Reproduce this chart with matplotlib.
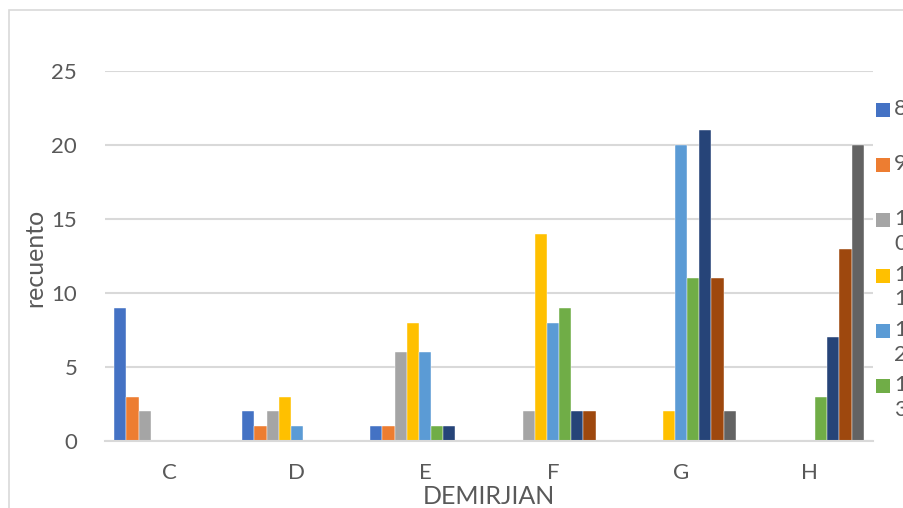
import numpy as np
import matplotlib
matplotlib.use("Agg")
import matplotlib.pyplot as plt
from matplotlib.patches import Rectangle

plt.rcParams['font.family'] = ['Lato', 'DejaVu Sans']

# Stages on the x axis and counts per age group
categories = ["C", "D", "E", "F", "G", "H"]
series_names = ["8", "9", "10", "11", "12", "13", "14", "15", "16"]
s8 = [9, 2, 1, 0, 0, 0]
s9 = [3, 1, 1, 0, 0, 0]
s10 = [2, 2, 6, 2, 0, 0]
s11 = [0, 3, 8, 14, 2, 0]
s12 = [0, 1, 6, 8, 20, 0]
s13 = [0, 0, 1, 9, 11, 3]
s14 = [0, 0, 1, 2, 21, 7]
s15 = [0, 0, 0, 2, 11, 13]
s16 = [0, 0, 0, 0, 2, 20]
series_values = [s8, s9, s10, s11, s12, s13, s14, s15, s16]
yticks = [0, 5, 10, 15, 20, 25]

colors = ["#4472C4", "#ED7D31", "#A5A5A5", "#FFC000", "#5B9BD5",
          "#70AD47", "#264478", "#9E480E", "#636363"]
text_color = "#595959"
grid_color = "#D9D9D9"

W, H = 904, 508
fig = plt.figure(figsize=(W / 100, H / 100), dpi=100)
fig.patch.set_facecolor("white")

# chart frame
fig.add_artist(Rectangle((9 / W, -0.1), 1.2, (H - 10) / H + 0.1,
                         transform=fig.transFigure, fill=False,
                         edgecolor=grid_color, linewidth=1.2))

left, right, top, bottom = 105, 873, 71, 441
ax = fig.add_axes([left / W, (H - bottom) / H, (right - left) / W, (bottom - top) / H])

n = len(series_values)
bar_w = 1 / (n + 1.5)
x = np.arange(len(categories))
for i, (vals, c) in enumerate(zip(series_values, colors)):
    offs = (i - (n - 1) / 2) * bar_w
    ax.bar(x + offs, vals, width=bar_w, color=c, edgecolor="white",
           linewidth=0.3, zorder=3)

ax.set_xlim(-0.5, len(categories) - 0.5)
ax.set_ylim(0, 25)
ax.set_yticks(yticks)
ax.set_xticks(x)
ax.set_xticklabels(categories)
ax.yaxis.grid(True, color=grid_color, linewidth=1.5, zorder=0)
for s in ["left", "right", "top"]:
    ax.spines[s].set_visible(False)
ax.spines["bottom"].set_color(grid_color)
ax.spines["bottom"].set_linewidth(1.5)
ax.spines["bottom"].set_zorder(4)
ax.tick_params(axis="both", length=0, labelsize=16, labelcolor=text_color)
ax.tick_params(axis="y", pad=20)
ax.tick_params(axis="x", pad=16)

fig.text(489 / W, 1 - 496 / H, "DEMIRJIAN", ha="center", va="center",
         fontsize=18, color=text_color)
fig.text(35 / W, 1 - 258 / H, "recuento", ha="center", va="center",
         rotation=90, fontsize=18, color=text_color)

# legend: entries that fit inside the legend box; labels wrap one digit per line
legend_bottom = 428
for i, (name, c) in enumerate(zip(series_names, colors)):
    yc = 110 + 55.2 * i
    if yc + 7 > legend_bottom:
        break
    fig.add_artist(Rectangle((876 / W, 1 - (yc + 7) / H), 14 / W, 14 / H,
                             transform=fig.transFigure, facecolor=c,
                             edgecolor="none"))
    fig.text(894 / W, 1 - (yc - 11) / H, "\n".join(name), ha="left", va="top",
             fontsize=16, color=text_color, linespacing=1.3)

fig.savefig("out.png", dpi=100)
